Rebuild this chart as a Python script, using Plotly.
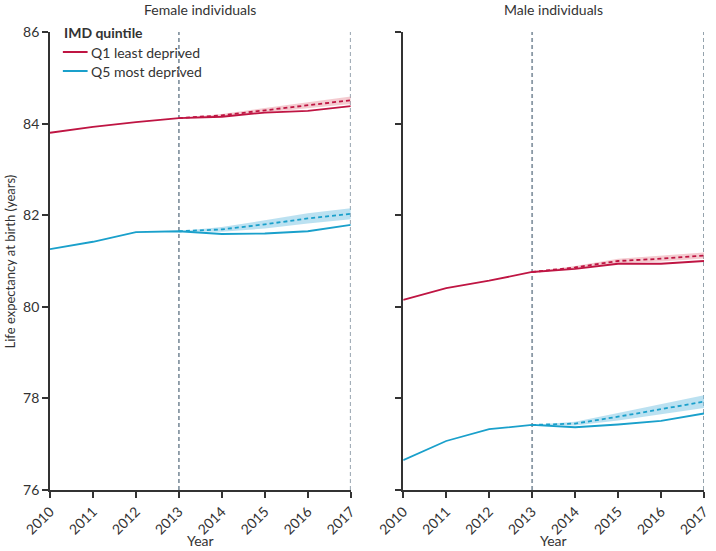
import plotly.graph_objects as go

years = [2010, 2011, 2012, 2013, 2014, 2015, 2016, 2017]
proj_years = [2013, 2014, 2015, 2016, 2017]

# Observed life expectancy
female_q1 = [83.80, 83.93, 84.03, 84.12, 84.15, 84.24, 84.28, 84.38]
female_q5 = [81.26, 81.42, 81.63, 81.65, 81.59, 81.60, 81.65, 81.79]
male_q1 = [80.15, 80.41, 80.57, 80.76, 80.83, 80.94, 80.94, 81.00]
male_q5 = [76.65, 77.07, 77.33, 77.42, 77.37, 77.43, 77.51, 77.67]

# Projected (counterfactual) trend and uncertainty half-width
female_q1_proj = [84.12, 84.18, 84.29, 84.40, 84.51]
female_q1_hw = [0.0, 0.03, 0.05, 0.07, 0.08]
female_q5_proj = [81.65, 81.69, 81.80, 81.93, 82.03]
female_q5_hw = [0.0, 0.05, 0.09, 0.11, 0.12]
male_q1_proj = [80.76, 80.86, 81.00, 81.05, 81.12]
male_q1_hw = [0.0, 0.03, 0.05, 0.06, 0.065]
male_q5_proj = [77.42, 77.45, 77.60, 77.77, 77.93]
male_q5_hw = [0.0, 0.04, 0.08, 0.11, 0.14]

series_labels = ["Q1 least deprived", "Q5 most deprived"]
legend_title = "IMD quintile"
panel_titles = ["Female individuals", "Male individuals"]
y_ticks = [76, 78, 80, 82, 84, 86]

RED = "#bf1543"
BLUE = "#1aa0cb"
RED_BAND = "rgba(230,140,150,0.45)"
BLUE_BAND = "rgba(120,195,228,0.5)"
GREY = "#8a99a5"
AX = "#333333"
FONT = "Lato"

W, H = 716, 551
L, R, T, B = 50, 5, 32, 61
pw = W - L - R
ph = H - T - B


def px(x):
    return (x - L) / pw


def py(y):
    return (H - B - y) / ph


d1 = [0, px(354)]
d2 = [px(407), 1.0]

fig = go.Figure()

panels = [
    ("x", "y", female_q1, female_q5, female_q1_proj, female_q1_hw, female_q5_proj, female_q5_hw),
    ("x2", "y2", male_q1, male_q5, male_q1_proj, male_q1_hw, male_q5_proj, male_q5_hw),
]

for xa, ya, q1, q5, q1p, q1h, q5p, q5h in panels:
    for proj, hw, band in [(q1p, q1h, RED_BAND), (q5p, q5h, BLUE_BAND)]:
        upper = [m + h for m, h in zip(proj, hw)]
        lower = [m - h for m, h in zip(proj, hw)]
        fig.add_trace(go.Scatter(
            x=proj_years + proj_years[::-1], y=upper + lower[::-1],
            fill="toself", fillcolor=band, line=dict(width=0),
            mode="lines", showlegend=False, hoverinfo="skip", xaxis=xa, yaxis=ya))
    for proj, col in [(q1p, RED), (q5p, BLUE)]:
        fig.add_trace(go.Scatter(
            x=proj_years, y=proj, mode="lines",
            line=dict(color=col, width=1.8, dash="4px,3px"),
            showlegend=False, xaxis=xa, yaxis=ya))
    for vals, col, name in [(q1, RED, series_labels[0]), (q5, BLUE, series_labels[1])]:
        fig.add_trace(go.Scatter(
            x=years, y=vals, mode="lines", name=name,
            line=dict(color=col, width=1.8),
            showlegend=False, xaxis=xa, yaxis=ya))

# vertical dashed reference lines
for xr, yr in [("x", "y domain"), ("x2", "y2 domain")]:
    for yr_x in [2013, 2017]:
        fig.add_shape(type="line", xref=xr, yref=yr, x0=yr_x, x1=yr_x, y0=0, y1=1,
                      line=dict(color=GREY, width=1.8, dash="4px,3px"), layer="below")

axis_common = dict(showline=True, linecolor=AX, linewidth=1.8, ticks="outside",
                   tickcolor=AX, ticklen=6, tickwidth=1.8, showgrid=False, zeroline=False,
                   tickfont=dict(family=FONT, size=14, color=AX))

fig.update_layout(
    width=W, height=H,
    margin=dict(l=L, r=R, t=T, b=B),
    plot_bgcolor="white", paper_bgcolor="white",
    font=dict(family=FONT, size=14, color=AX),
    xaxis=dict(domain=d1, range=[2010, 2017], tickvals=years, tickangle=-45, **axis_common),
    xaxis2=dict(domain=d2, range=[2010, 2017], tickvals=years, tickangle=-45, **axis_common),
    yaxis=dict(range=[76, 86], tickvals=y_ticks, **axis_common),
    yaxis2=dict(range=[76, 86], tickvals=y_ticks, showticklabels=False, anchor="x2", **axis_common),
    showlegend=False,
)

# custom legend
fig.add_annotation(x=px(62), y=py(33), xref="paper", yref="paper",
                   text="<b>" + legend_title + "</b>", showarrow=False,
                   xanchor="left", yanchor="middle", font=dict(family=FONT, size=14, color=AX))
for label, col, yy in [(series_labels[0], RED, 52), (series_labels[1], BLUE, 71)]:
    fig.add_shape(type="line", xref="paper", yref="paper",
                  x0=px(63), x1=px(88), y0=py(yy), y1=py(yy),
                  line=dict(color=col, width=2))
    fig.add_annotation(x=px(89), y=py(yy), xref="paper", yref="paper",
                       text=label, showarrow=False, xanchor="left", yanchor="middle",
                       font=dict(family=FONT, size=14, color=AX))

# panel titles and axis titles
for dom, title in zip([d1, d2], panel_titles):
    cx = (dom[0] + dom[1]) / 2
    fig.add_annotation(x=cx, y=py(9), xref="paper", yref="paper",
                       text=title, showarrow=False, xanchor="center", yanchor="middle",
                       font=dict(family=FONT, size=14, color=AX))
    fig.add_annotation(x=cx, y=py(540), xref="paper", yref="paper",
                       text="Year", showarrow=False, xanchor="center", yanchor="middle",
                       font=dict(family=FONT, size=14, color=AX))

fig.add_annotation(x=px(10), y=py(261), xref="paper", yref="paper",
                   text="Life expectancy at birth (years)", textangle=-90, showarrow=False,
                   xanchor="center", yanchor="middle",
                   font=dict(family=FONT, size=13, color=AX))

fig.write_html("out.html", config={"displayModeBar": False},
               post_script="document.body.style.margin='0';document.body.style.overflow='hidden';")
